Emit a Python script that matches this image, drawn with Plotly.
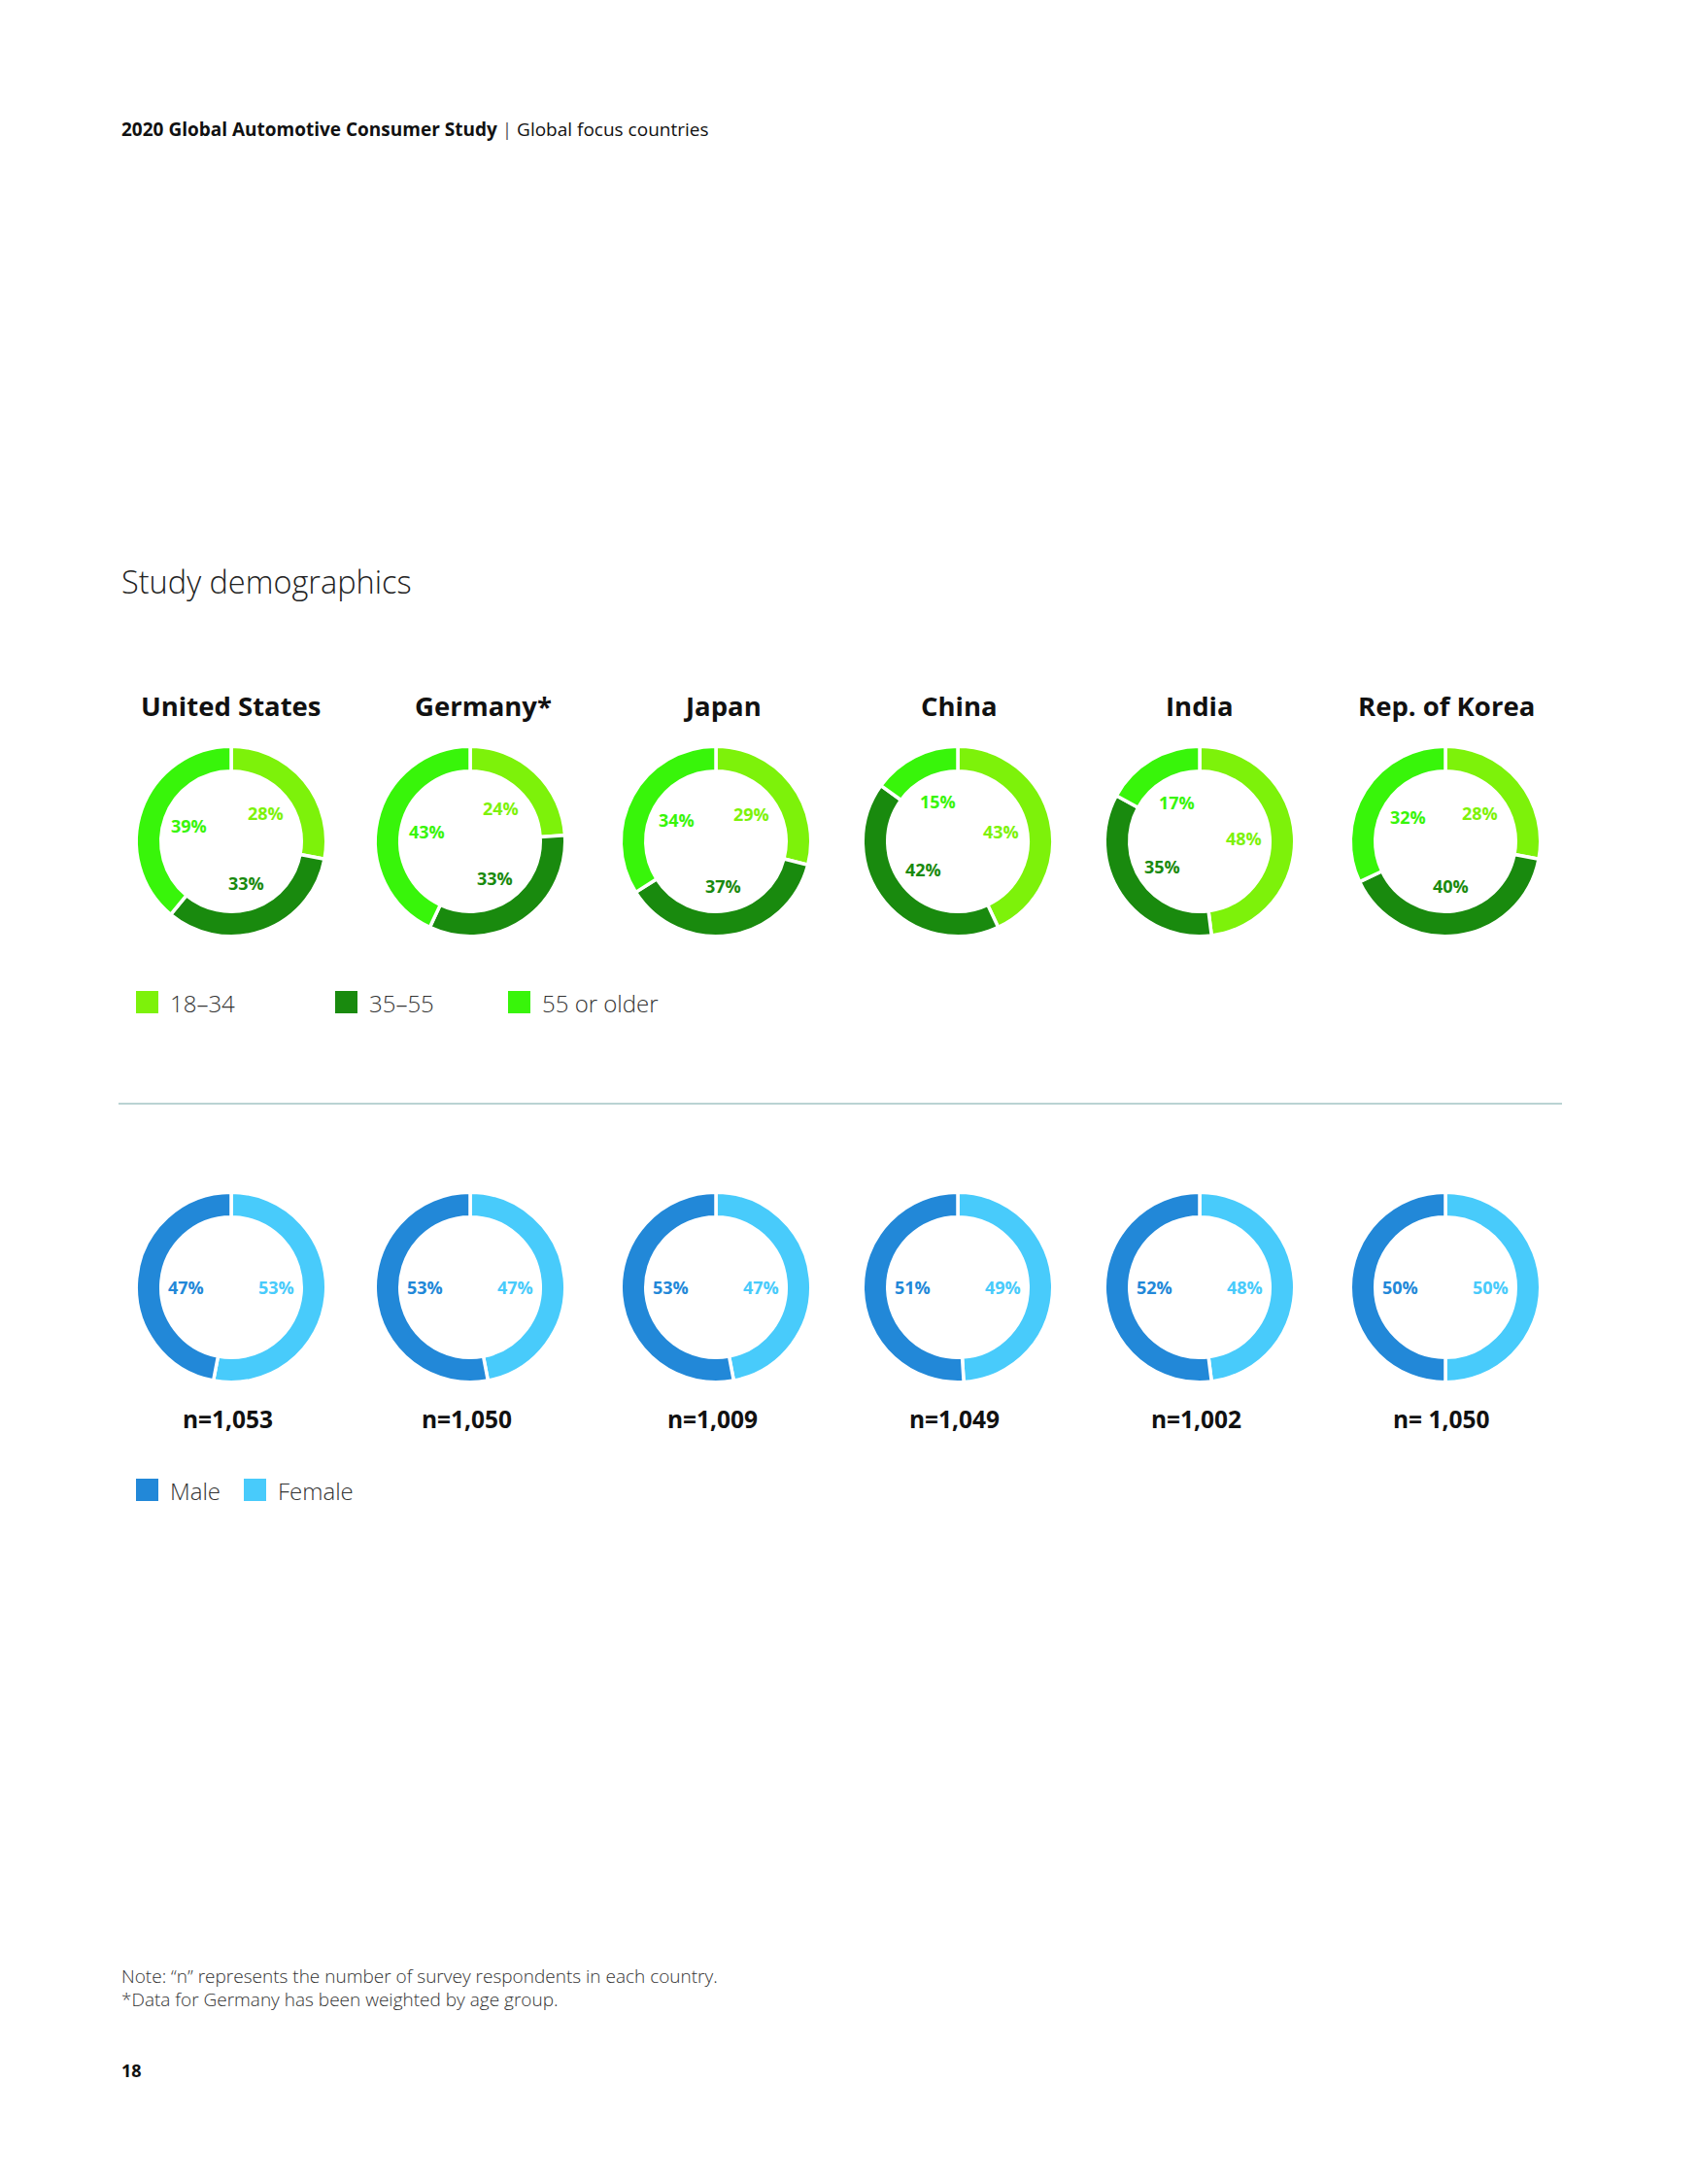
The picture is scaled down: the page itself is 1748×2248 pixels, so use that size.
import math
import plotly.graph_objects as go

# ---------------- data ----------------
countries = ["United States", "Germany*", "Japan", "China", "India", "Rep. of Korea"]
age_groups = ["18–34", "35–55", "55 or older"]
age_18_34 = [28, 24, 29, 43, 48, 28]
age_35_55 = [33, 33, 37, 42, 35, 40]
age_55_plus = [39, 43, 34, 15, 17, 32]
genders = ["Male", "Female"]
male = [47, 53, 53, 51, 52, 50]
female = [53, 47, 47, 49, 48, 50]
sample_n = ["n=1,053", "n=1,050", "n=1,009", "n=1,049", "n=1,002", "n= 1,050"]

header_bold = "2020 Global Automotive Consumer Study"
header_rest = "Global focus countries"
section_title = "Study demographics"
notes = ["Note: “n” represents the number of survey respondents in each country.",
         "*Data for Germany has been weighted by age group."]
page_number = "18"

# ---------------- style / layout ----------------
PAGE_W, PAGE_H = 1748, 2248
BODY = 8                      # default body margin of the html page
W, H = PAGE_W - 2 * BODY, PAGE_H - 2 * BODY
age_colors = ["#7DF20A", "#198A0E", "#38F50A"]
gender_colors = ["#2288D8", "#48CBFB"]
col_x = [238, 484, 737, 986, 1235, 1488]
title_x = [238, 497, 743, 987, 1235, 1489]
row_age_y = 866
row_gender_y = 1325
R_VIS = 96          # visible outer radius (px)
R_IN = 74           # visible inner radius (px)
GAP = 3.5           # white separation between slices
LABEL_R = 0.48 * R_VIS
FONT = "Open Sans"


def px(x):
    return (x - BODY) / W


def py(y):
    return 1 - (y - BODY) / H


fig = go.Figure()
annotations = []
shapes = []


def add_donut(cx, cy, labels, values, colors, name, side_labels=False):
    r_dom = R_VIS + GAP / 2
    hole = (R_IN - GAP / 2) / r_dom
    fig.add_trace(go.Pie(
        labels=labels, values=values, name=name,
        sort=False, direction="clockwise", rotation=0,
        hole=hole, textinfo="none", showlegend=False,
        marker=dict(colors=colors, line=dict(color="white", width=GAP)),
        domain=dict(x=[px(cx - r_dom), px(cx + r_dom)],
                    y=[py(cy + r_dom), py(cy - r_dom)]),
        hovertemplate="%{label}: %{value}%<extra>" + name + "</extra>",
    ))
    total = sum(values)
    cum = 0
    for v, c in zip(values, colors):
        th = 2 * math.pi * (cum + v / 2) / total
        cum += v
        if side_labels:
            # two-slice donut: labels sit level with the centre, left / right
            lx = cx + math.copysign(LABEL_R, math.sin(th))
            ly = cy
        else:
            lx = cx + LABEL_R * math.sin(th)
            ly = cy - LABEL_R * math.cos(th)
        annotations.append(dict(
            x=px(lx), y=py(ly), xref="paper", yref="paper", showarrow=False,
            text=f"{v}%", xanchor="center", yanchor="middle",
            font=dict(family=FONT, size=18, color=c, weight=700)))


for i, country in enumerate(countries):
    cx = col_x[i]
    # age donut: 18-34, 35-55, 55+ clockwise from 12 o'clock
    add_donut(cx, row_age_y, age_groups,
              [age_18_34[i], age_35_55[i], age_55_plus[i]], age_colors, country)
    # gender donut: female first (right side), male second (left side)
    add_donut(cx, row_gender_y, [genders[1], genders[0]],
              [female[i], male[i]], [gender_colors[1], gender_colors[0]], country,
              side_labels=True)
    annotations.append(dict(
        x=px(title_x[i]), y=py(727), xref="paper", yref="paper", showarrow=False,
        text=country, xanchor="center", yanchor="middle",
        font=dict(family=FONT, size=27.5, color="#111111", weight=700)))
    annotations.append(dict(
        x=px(cx - 4), y=py(1460), xref="paper", yref="paper", showarrow=False,
        text=sample_n[i], xanchor="center", yanchor="middle",
        font=dict(family=FONT, size=24.5, color="#111111", weight=700)))

# legends (squares + labels)
age_leg_x = [140, 345, 523]
for lab, c, x0 in zip(age_groups, age_colors, age_leg_x):
    shapes.append(dict(type="rect", xref="paper", yref="paper",
                       x0=px(x0), x1=px(x0 + 23), y0=py(1043), y1=py(1020),
                       fillcolor=c, line=dict(width=0)))
    annotations.append(dict(
        x=px(x0 + 33), y=py(1032), xref="paper", yref="paper", showarrow=False,
        text=lab, xanchor="left", yanchor="middle",
        font=dict(family=FONT, size=24, color="#333333", weight=300)))

gender_leg_x = [140, 251]
for lab, c, x0 in zip(genders, gender_colors, gender_leg_x):
    shapes.append(dict(type="rect", xref="paper", yref="paper",
                       x0=px(x0), x1=px(x0 + 23), y0=py(1545), y1=py(1522),
                       fillcolor=c, line=dict(width=0)))
    annotations.append(dict(
        x=px(x0 + 33), y=py(1534), xref="paper", yref="paper", showarrow=False,
        text=lab, xanchor="left", yanchor="middle",
        font=dict(family=FONT, size=24, color="#333333", weight=300)))

# separator line
shapes.append(dict(type="line", xref="paper", yref="paper",
                   x0=px(122), x1=px(1608), y0=py(1136), y1=py(1136),
                   line=dict(color="#A3C4C4", width=1.5)))

# header, section title, notes, page number
annotations.append(dict(
    x=px(123), y=py(133), xref="paper", yref="paper", showarrow=False,
    text=f"<b>{header_bold}</b> <span style='color:#555'>|</span> {header_rest}",
    xanchor="left", yanchor="middle",
    font=dict(family=FONT, size=19, color="#111111")))
annotations.append(dict(
    x=px(123), y=py(598), xref="paper", yref="paper", showarrow=False,
    text=section_title, xanchor="left", yanchor="middle",
    font=dict(family=FONT, size=32.5, color="#222222", weight=300)))
for k, line in enumerate(notes):
    annotations.append(dict(
        x=px(123), y=py(2034 + 24 * k), xref="paper", yref="paper", showarrow=False,
        text=line, xanchor="left", yanchor="middle",
        font=dict(family=FONT, size=19, color="#333333", weight=300)))
annotations.append(dict(
    x=px(123), y=py(2131), xref="paper", yref="paper", showarrow=False,
    text=page_number, xanchor="left", yanchor="middle",
    font=dict(family=FONT, size=18, color="#111111", weight=700)))

fig.update_layout(
    width=W, height=H, margin=dict(l=0, r=0, t=0, b=0),
    paper_bgcolor="white", plot_bgcolor="white",
    annotations=annotations, shapes=shapes, showlegend=False,
)

fig.write_html("out.html")
